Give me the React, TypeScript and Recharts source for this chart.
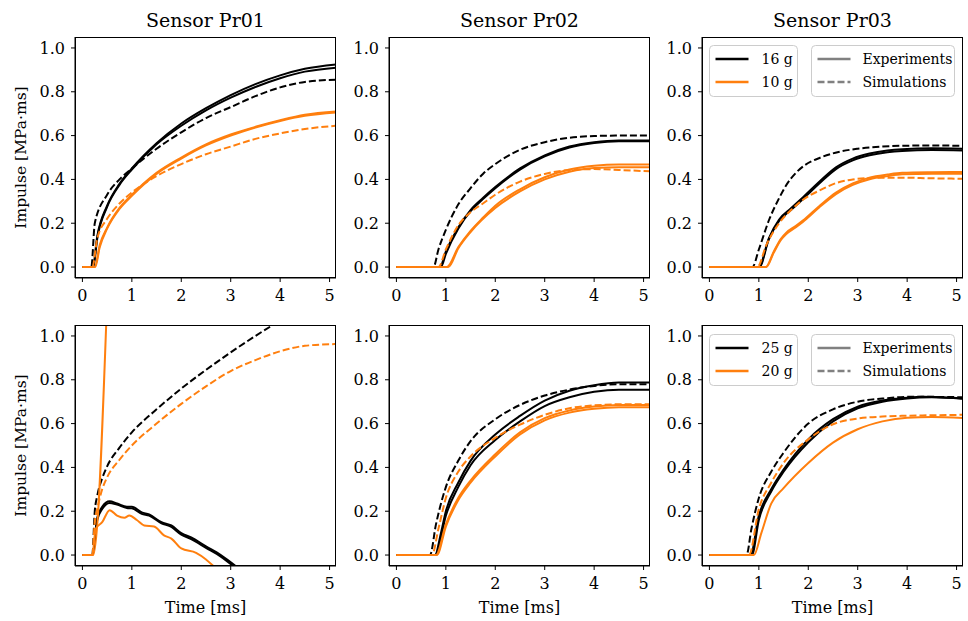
import { LineChart, Line, XAxis, YAxis } from "recharts";

type Pt = [number, number];

const sensors = ["Sensor Pr01", "Sensor Pr02", "Sensor Pr03"];
const timeTicks = [0, 1, 2, 3, 4, 5];
const impulseTicks = [0, 0.2, 0.4, 0.6, 0.8, 1.0];
const chargesTop = ["16 g", "10 g"];
const chargesBottom = ["25 g", "20 g"];
const kinds = ["Experiments", "Simulations"];

// --- top row: 16 g (black) / 10 g (orange) ---
const pr01Top16ExpA: Pt[] = [[0, 0], [0.21, 0], [0.3, 0.14], [0.5, 0.28], [0.75, 0.38], [1, 0.45], [1.5, 0.565], [2, 0.655], [2.5, 0.725], [3, 0.785], [3.5, 0.835], [4, 0.875], [4.5, 0.905], [5.13, 0.925]];
const pr01Top16ExpB: Pt[] = [[0, 0], [0.22, 0], [0.3, 0.13], [0.5, 0.275], [0.75, 0.375], [1, 0.445], [1.5, 0.56], [2, 0.645], [2.5, 0.715], [3, 0.773], [3.5, 0.822], [4, 0.862], [4.5, 0.892], [5.13, 0.91]];
const pr01Top16Sim: Pt[] = [[0, 0], [0.18, 0], [0.25, 0.2], [0.5, 0.33], [0.75, 0.4], [1, 0.45], [1.5, 0.54], [2, 0.615], [2.5, 0.68], [3, 0.73], [3.5, 0.78], [4, 0.82], [4.5, 0.845], [5.13, 0.855]];
const pr01Top10ExpA: Pt[] = [[0, 0], [0.25, 0], [0.35, 0.1], [0.5, 0.18], [0.75, 0.27], [1, 0.33], [1.5, 0.43], [2, 0.5], [2.5, 0.56], [3, 0.605], [3.5, 0.64], [4, 0.67], [4.5, 0.695], [5.13, 0.71]];
const pr01Top10ExpB: Pt[] = [[0, 0], [0.26, 0], [0.35, 0.09], [0.5, 0.175], [0.75, 0.265], [1, 0.325], [1.5, 0.425], [2, 0.495], [2.5, 0.555], [3, 0.6], [3.5, 0.637], [4, 0.667], [4.5, 0.69], [5.13, 0.705]];
const pr01Top10Sim: Pt[] = [[0, 0], [0.2, 0], [0.3, 0.13], [0.5, 0.22], [0.75, 0.29], [1, 0.34], [1.5, 0.415], [2, 0.47], [2.5, 0.515], [3, 0.55], [3.5, 0.585], [4, 0.61], [4.5, 0.63], [5.13, 0.645]];

const pr02Top16ExpA: Pt[] = [[0, 0], [0.88, 0], [1, 0.07], [1.25, 0.18], [1.5, 0.26], [1.75, 0.315], [2, 0.365], [2.5, 0.45], [3, 0.51], [3.5, 0.55], [4, 0.57], [4.5, 0.578], [5.13, 0.578]];
const pr02Top16ExpB: Pt[] = [[0, 0], [0.9, 0], [1, 0.06], [1.25, 0.175], [1.5, 0.255], [1.75, 0.31], [2, 0.36], [2.5, 0.445], [3, 0.505], [3.5, 0.545], [4, 0.566], [4.5, 0.574], [5.13, 0.574]];
const pr02Top16Sim: Pt[] = [[0, 0], [0.75, 0], [0.85, 0.08], [1, 0.17], [1.25, 0.285], [1.5, 0.36], [1.75, 0.425], [2, 0.47], [2.5, 0.535], [3, 0.57], [3.5, 0.59], [4, 0.598], [4.5, 0.6], [5.13, 0.6]];
const pr02Top10ExpA: Pt[] = [[0, 0], [1.02, 0], [1.25, 0.09], [1.5, 0.165], [1.75, 0.225], [2, 0.28], [2.5, 0.355], [3, 0.41], [3.5, 0.445], [4, 0.462], [4.5, 0.468], [5.13, 0.468]];
const pr02Top10ExpB: Pt[] = [[0, 0], [1.05, 0], [1.25, 0.085], [1.5, 0.16], [2, 0.27], [2.5, 0.345], [3, 0.4], [3.5, 0.435], [4, 0.452], [4.5, 0.455], [5.13, 0.455]];
const pr02Top10Sim: Pt[] = [[0, 0], [0.85, 0], [1, 0.08], [1.25, 0.19], [1.5, 0.25], [1.75, 0.29], [2, 0.33], [2.5, 0.39], [3, 0.425], [3.5, 0.443], [4, 0.447], [4.5, 0.443], [5.13, 0.437]];

const pr03Top16ExpA: Pt[] = [[0, 0], [1, 0], [1.2, 0.13], [1.41, 0.217], [1.65, 0.268], [1.9, 0.32], [2.25, 0.395], [2.56, 0.455], [2.9, 0.495], [3.24, 0.518], [3.6, 0.532], [3.9, 0.538], [4.5, 0.542], [5.13, 0.54]];
const pr03Top16ExpB: Pt[] = [[0, 0], [1.01, 0], [1.2, 0.125], [1.41, 0.21], [1.65, 0.26], [1.9, 0.312], [2.25, 0.387], [2.56, 0.447], [2.9, 0.487], [3.24, 0.51], [3.6, 0.524], [3.9, 0.53], [4.5, 0.534], [5.13, 0.532]];
const pr03Top16Sim: Pt[] = [[0, 0], [0.87, 0], [1, 0.08], [1.21, 0.217], [1.4, 0.31], [1.55, 0.372], [1.75, 0.43], [1.9, 0.46], [2.25, 0.5], [2.55, 0.522], [3, 0.54], [3.5, 0.55], [4, 0.554], [4.5, 0.555], [5.13, 0.553]];
const pr03Top10ExpA: Pt[] = [[0, 0], [1.14, 0], [1.3, 0.07], [1.45, 0.13], [1.55, 0.156], [1.75, 0.188], [1.89, 0.212], [2.22, 0.278], [2.56, 0.34], [2.9, 0.382], [3.24, 0.408], [3.6, 0.422], [3.9, 0.43], [4.5, 0.433], [5.13, 0.434]];
const pr03Top10ExpB: Pt[] = [[0, 0], [1.15, 0], [1.3, 0.065], [1.45, 0.125], [1.55, 0.15], [1.75, 0.182], [1.89, 0.206], [2.22, 0.272], [2.56, 0.333], [2.9, 0.375], [3.24, 0.401], [3.6, 0.415], [3.9, 0.423], [4.5, 0.426], [5.13, 0.426]];
const pr03Top10Sim: Pt[] = [[0, 0], [0.97, 0], [1.15, 0.1], [1.41, 0.2], [1.65, 0.26], [1.9, 0.308], [2.25, 0.352], [2.56, 0.383], [2.9, 0.4], [3.4, 0.408], [3.9, 0.408], [4.5, 0.405], [5.13, 0.403]];

// --- bottom row: 25 g (black) / 20 g (orange) ---
const pr01Bot25ExpA: Pt[] = [[0, 0], [0.2, 0], [0.3, 0.17], [0.4, 0.22], [0.55, 0.245], [0.7, 0.235], [0.9, 0.22], [1, 0.22], [1.2, 0.195], [1.35, 0.185], [1.6, 0.15], [1.8, 0.135], [2, 0.1], [2.2, 0.08], [2.5, 0.04], [2.8, 0.0], [3.1, -0.05]];
const pr01Bot25ExpB: Pt[] = [[0, 0], [0.2, 0], [0.3, 0.16], [0.4, 0.21], [0.55, 0.238], [0.7, 0.23], [0.9, 0.215], [1, 0.213], [1.2, 0.188], [1.35, 0.18], [1.6, 0.145], [1.8, 0.128], [2, 0.093], [2.2, 0.073], [2.5, 0.033], [2.8, -0.007], [3.05, -0.05]];
const pr01Bot25Sim: Pt[] = [[0, 0], [0.2, 0], [0.25, 0.2], [0.3, 0.27], [0.4, 0.35], [0.5, 0.405], [0.75, 0.49], [1, 0.56], [1.5, 0.665], [2, 0.76], [2.5, 0.845], [3, 0.925], [3.5, 1.0], [4, 1.07], [4.5, 1.135], [5.13, 1.21]];
const pr01Bot20ExpA: Pt[] = [[0, 0], [0.22, 0], [0.5, 1.17]];
const pr01Bot20ExpB: Pt[] = [[0, 0], [0.2, 0], [0.27, 0.12], [0.4, 0.15], [0.55, 0.205], [0.7, 0.18], [0.85, 0.17], [0.95, 0.18], [1.1, 0.16], [1.25, 0.135], [1.45, 0.13], [1.65, 0.09], [1.8, 0.075], [2, 0.03], [2.3, 0.01], [2.5, -0.02], [2.65, -0.05]];
const pr01Bot20Sim: Pt[] = [[0, 0], [0.2, 0], [0.25, 0.15], [0.3, 0.21], [0.4, 0.3], [0.5, 0.355], [0.75, 0.435], [1, 0.5], [1.5, 0.6], [2, 0.69], [2.5, 0.77], [3, 0.84], [3.5, 0.89], [4, 0.93], [4.5, 0.955], [5.13, 0.963]];

const pr02Bot25ExpA: Pt[] = [[0, 0], [0.78, 0], [0.9, 0.1], [1, 0.2], [1.25, 0.33], [1.5, 0.43], [2, 0.55], [2.5, 0.635], [3, 0.705], [3.5, 0.75], [4, 0.775], [4.5, 0.787], [5.13, 0.787]];
const pr02Bot25ExpB: Pt[] = [[0, 0], [0.8, 0], [1, 0.18], [1.25, 0.31], [1.5, 0.41], [2, 0.525], [2.5, 0.61], [3, 0.68], [3.5, 0.72], [4, 0.745], [4.5, 0.755], [5.13, 0.755]];
const pr02Bot25Sim: Pt[] = [[0, 0], [0.68, 0], [0.8, 0.14], [1, 0.31], [1.25, 0.43], [1.5, 0.52], [2, 0.62], [2.5, 0.685], [3, 0.728], [3.5, 0.755], [4, 0.772], [4.5, 0.78], [5.13, 0.78]];
const pr02Bot20ExpA: Pt[] = [[0, 0], [0.82, 0], [1, 0.13], [1.25, 0.25], [1.5, 0.33], [2, 0.45], [2.5, 0.55], [3, 0.615], [3.5, 0.65], [4, 0.668], [4.5, 0.675], [5.13, 0.675]];
const pr02Bot20ExpB: Pt[] = [[0, 0], [0.8, 0], [1, 0.14], [1.25, 0.26], [1.5, 0.34], [2, 0.46], [2.5, 0.56], [3, 0.625], [3.5, 0.66], [4, 0.678], [4.5, 0.685], [5.13, 0.685]];
const pr02Bot20Sim: Pt[] = [[0, 0], [0.72, 0], [0.85, 0.12], [1, 0.26], [1.25, 0.38], [1.5, 0.45], [2, 0.535], [2.5, 0.595], [3, 0.64], [3.5, 0.67], [4, 0.683], [4.5, 0.688], [5.13, 0.688]];

const pr03Bot25ExpA: Pt[] = [[0, 0], [0.83, 0], [1, 0.18], [1.25, 0.3], [1.5, 0.39], [2, 0.528], [2.5, 0.62], [3, 0.677], [3.5, 0.705], [4, 0.718], [4.3, 0.722], [4.7, 0.72], [5.13, 0.715]];
const pr03Bot25ExpB: Pt[] = [[0, 0], [0.86, 0], [1, 0.16], [1.25, 0.29], [1.5, 0.38], [2, 0.515], [2.5, 0.61], [3, 0.67], [3.5, 0.7], [4, 0.715], [4.5, 0.72], [5.13, 0.713]];
const pr03Bot25Sim: Pt[] = [[0, 0], [0.75, 0], [0.85, 0.12], [1, 0.26], [1.25, 0.38], [1.5, 0.467], [2, 0.6], [2.5, 0.665], [3, 0.7], [3.5, 0.714], [4, 0.722], [4.5, 0.722], [5.13, 0.72]];
const pr03Bot20Exp: Pt[] = [[0, 0], [0.9, 0], [1.05, 0.1], [1.25, 0.235], [1.5, 0.305], [2, 0.42], [2.5, 0.513], [3, 0.574], [3.5, 0.61], [4, 0.627], [4.5, 0.63], [5.13, 0.625]];
const pr03Bot20Sim: Pt[] = [[0, 0], [0.8, 0], [1, 0.21], [1.25, 0.33], [1.5, 0.42], [2, 0.528], [2.5, 0.597], [3, 0.623], [3.5, 0.632], [4, 0.636], [4.5, 0.638], [5.13, 0.64]];

const BLACK = "#000000";
const ORANGE = "#ff7f0e";
const GREY = "#808080";
const FONT = '"DejaVu Serif", serif';

const X_DOMAIN: [number, number] = [-0.15, 5.13];
const Y_DOMAIN: [number, number] = [-0.05, 1.05];

const COL_LEFT = [75, 389, 702];
const ROW_TOP = [37, 325];
const PLOT_W = 261;
const PLOT_H = 241;

type Series = { pts: Pt[]; color: string; dashed?: boolean };

const exp = (pts: Pt[], color: string): Series => ({ pts, color });
const sim = (pts: Pt[], color: string): Series => ({ pts, color, dashed: true });

const panels: Series[][][] = [
  [
    [exp(pr01Top16ExpA, BLACK), exp(pr01Top16ExpB, BLACK), sim(pr01Top16Sim, BLACK), exp(pr01Top10ExpA, ORANGE), exp(pr01Top10ExpB, ORANGE), sim(pr01Top10Sim, ORANGE)],
    [exp(pr02Top16ExpA, BLACK), exp(pr02Top16ExpB, BLACK), sim(pr02Top16Sim, BLACK), exp(pr02Top10ExpA, ORANGE), exp(pr02Top10ExpB, ORANGE), sim(pr02Top10Sim, ORANGE)],
    [exp(pr03Top16ExpA, BLACK), exp(pr03Top16ExpB, BLACK), sim(pr03Top16Sim, BLACK), exp(pr03Top10ExpA, ORANGE), exp(pr03Top10ExpB, ORANGE), sim(pr03Top10Sim, ORANGE)],
  ],
  [
    [exp(pr01Bot25ExpA, BLACK), exp(pr01Bot25ExpB, BLACK), sim(pr01Bot25Sim, BLACK), exp(pr01Bot20ExpA, ORANGE), exp(pr01Bot20ExpB, ORANGE), sim(pr01Bot20Sim, ORANGE)],
    [exp(pr02Bot25ExpA, BLACK), exp(pr02Bot25ExpB, BLACK), sim(pr02Bot25Sim, BLACK), exp(pr02Bot20ExpA, ORANGE), exp(pr02Bot20ExpB, ORANGE), sim(pr02Bot20Sim, ORANGE)],
    [exp(pr03Bot25ExpA, BLACK), exp(pr03Bot25ExpB, BLACK), sim(pr03Bot25Sim, BLACK), exp(pr03Bot20Exp, ORANGE), sim(pr03Bot20Sim, ORANGE)],
  ],
];

const M_LEFT = 70;
const M_TOP = 10;
const M_RIGHT = 4;
const M_BOTTOM = 40;

function Panel({ series, left, top }: { series: Series[]; left: number; top: number }) {
  return (
    <div style={{ position: "absolute", left: left - M_LEFT, top: top - M_TOP }}>
      <LineChart
        width={PLOT_W + M_LEFT + M_RIGHT}
        height={PLOT_H + M_TOP + M_BOTTOM}
        margin={{ top: M_TOP, right: M_RIGHT, bottom: 0, left: 5 }}
      >
        <XAxis
          dataKey="t"
          type="number"
          domain={X_DOMAIN}
          ticks={timeTicks}
          allowDataOverflow
          height={M_BOTTOM}
          stroke={BLACK}
          tickSize={4}
          tickMargin={8}
          tick={{ fill: BLACK, fontSize: 16, fontFamily: FONT }}
        />
        <YAxis
          type="number"
          domain={Y_DOMAIN}
          ticks={impulseTicks}
          allowDataOverflow
          width={M_LEFT - 5}
          stroke={BLACK}
          tickSize={4}
          tickMargin={6}
          tickFormatter={(v: number) => v.toFixed(1)}
          tick={{ fill: BLACK, fontSize: 16, fontFamily: FONT }}
        />
        {series.map((s, i) => (
          <Line
            key={i}
            data={s.pts.map(([t, v]) => ({ t, v }))}
            dataKey="v"
            type="monotone"
            stroke={s.color}
            strokeWidth={2}
            strokeDasharray={s.dashed ? "7 3" : undefined}
            dot={false}
            activeDot={false}
            isAnimationActive={false}
          />
        ))}
      </LineChart>
    </div>
  );
}

function LegendBoxes({ top, charges }: { top: number; charges: string[] }) {
  const rowY = [13.5, 36.5];
  return (
    <svg style={{ position: "absolute", left: 0, top: 0 }} width={968} height={621}>
      <g transform={`translate(709.5, ${top + 0.5})`} fontFamily={FONT} fontSize={14}>
        <rect width={88} height={51} rx={4} fill="#ffffff" fillOpacity={0.8} stroke="#cccccc" />
        {charges.map((c, i) => (
          <g key={c}>
            <line x1={6} x2={39} y1={rowY[i]} y2={rowY[i]} stroke={i === 0 ? BLACK : ORANGE} strokeWidth={2.4} />
            <text x={52} y={rowY[i]} dominantBaseline="central" fill={BLACK}>{c}</text>
          </g>
        ))}
      </g>
      <g transform={`translate(811.5, ${top + 0.5})`} fontFamily={FONT} fontSize={14}>
        <rect width={143} height={51} rx={4} fill="#ffffff" fillOpacity={0.8} stroke="#cccccc" />
        {kinds.map((k, i) => (
          <g key={k}>
            <line x1={6} x2={39} y1={rowY[i]} y2={rowY[i]} stroke={GREY} strokeWidth={2.4} strokeDasharray={i === 1 ? "7 3" : undefined} />
            <text x={51} y={rowY[i]} dominantBaseline="central" fill={BLACK}>{k}</text>
          </g>
        ))}
      </g>
    </svg>
  );
}

export default function App() {
  return (
    <div style={{ position: "absolute", left: 0, top: 0, width: 968, height: 621, background: "#fff", fontFamily: FONT }}>
      {panels.map((row, r) =>
        row.map((series, c) => <Panel key={`${r}-${c}`} series={series} left={COL_LEFT[c]} top={ROW_TOP[r]} />)
      )}
      <svg style={{ position: "absolute", left: 0, top: 0 }} width={968} height={621} fontFamily={FONT}>
        {/* axes frames */}
        {ROW_TOP.map((t) =>
          COL_LEFT.map((l) => (
            <rect key={`${t}-${l}`} x={l + 0.5} y={t + 0.5} width={PLOT_W - 1} height={PLOT_H - 1} fill="none" stroke={BLACK} strokeWidth={1} />
          ))
        )}
        {sensors.map((s, c) => (
          <text key={s} x={COL_LEFT[c] + PLOT_W / 2} y={27} textAnchor="middle" fontSize={19} fill={BLACK}>{s}</text>
        ))}
        {ROW_TOP.map((t) => (
          <text
            key={t}
            transform={`translate(21, ${t + PLOT_H / 2}) rotate(-90)`}
            textAnchor="middle"
            dominantBaseline="central"
            fontSize={15.5}
            fill={BLACK}
          >
            Impulse [MPa·ms]
          </text>
        ))}
        {COL_LEFT.map((l) => (
          <text key={l} x={l + PLOT_W / 2} y={613} textAnchor="middle" fontSize={16} fill={BLACK}>Time [ms]</text>
        ))}
      </svg>
      <LegendBoxes top={45} charges={chargesTop} />
      <LegendBoxes top={334} charges={chargesBottom} />
    </div>
  );
}
